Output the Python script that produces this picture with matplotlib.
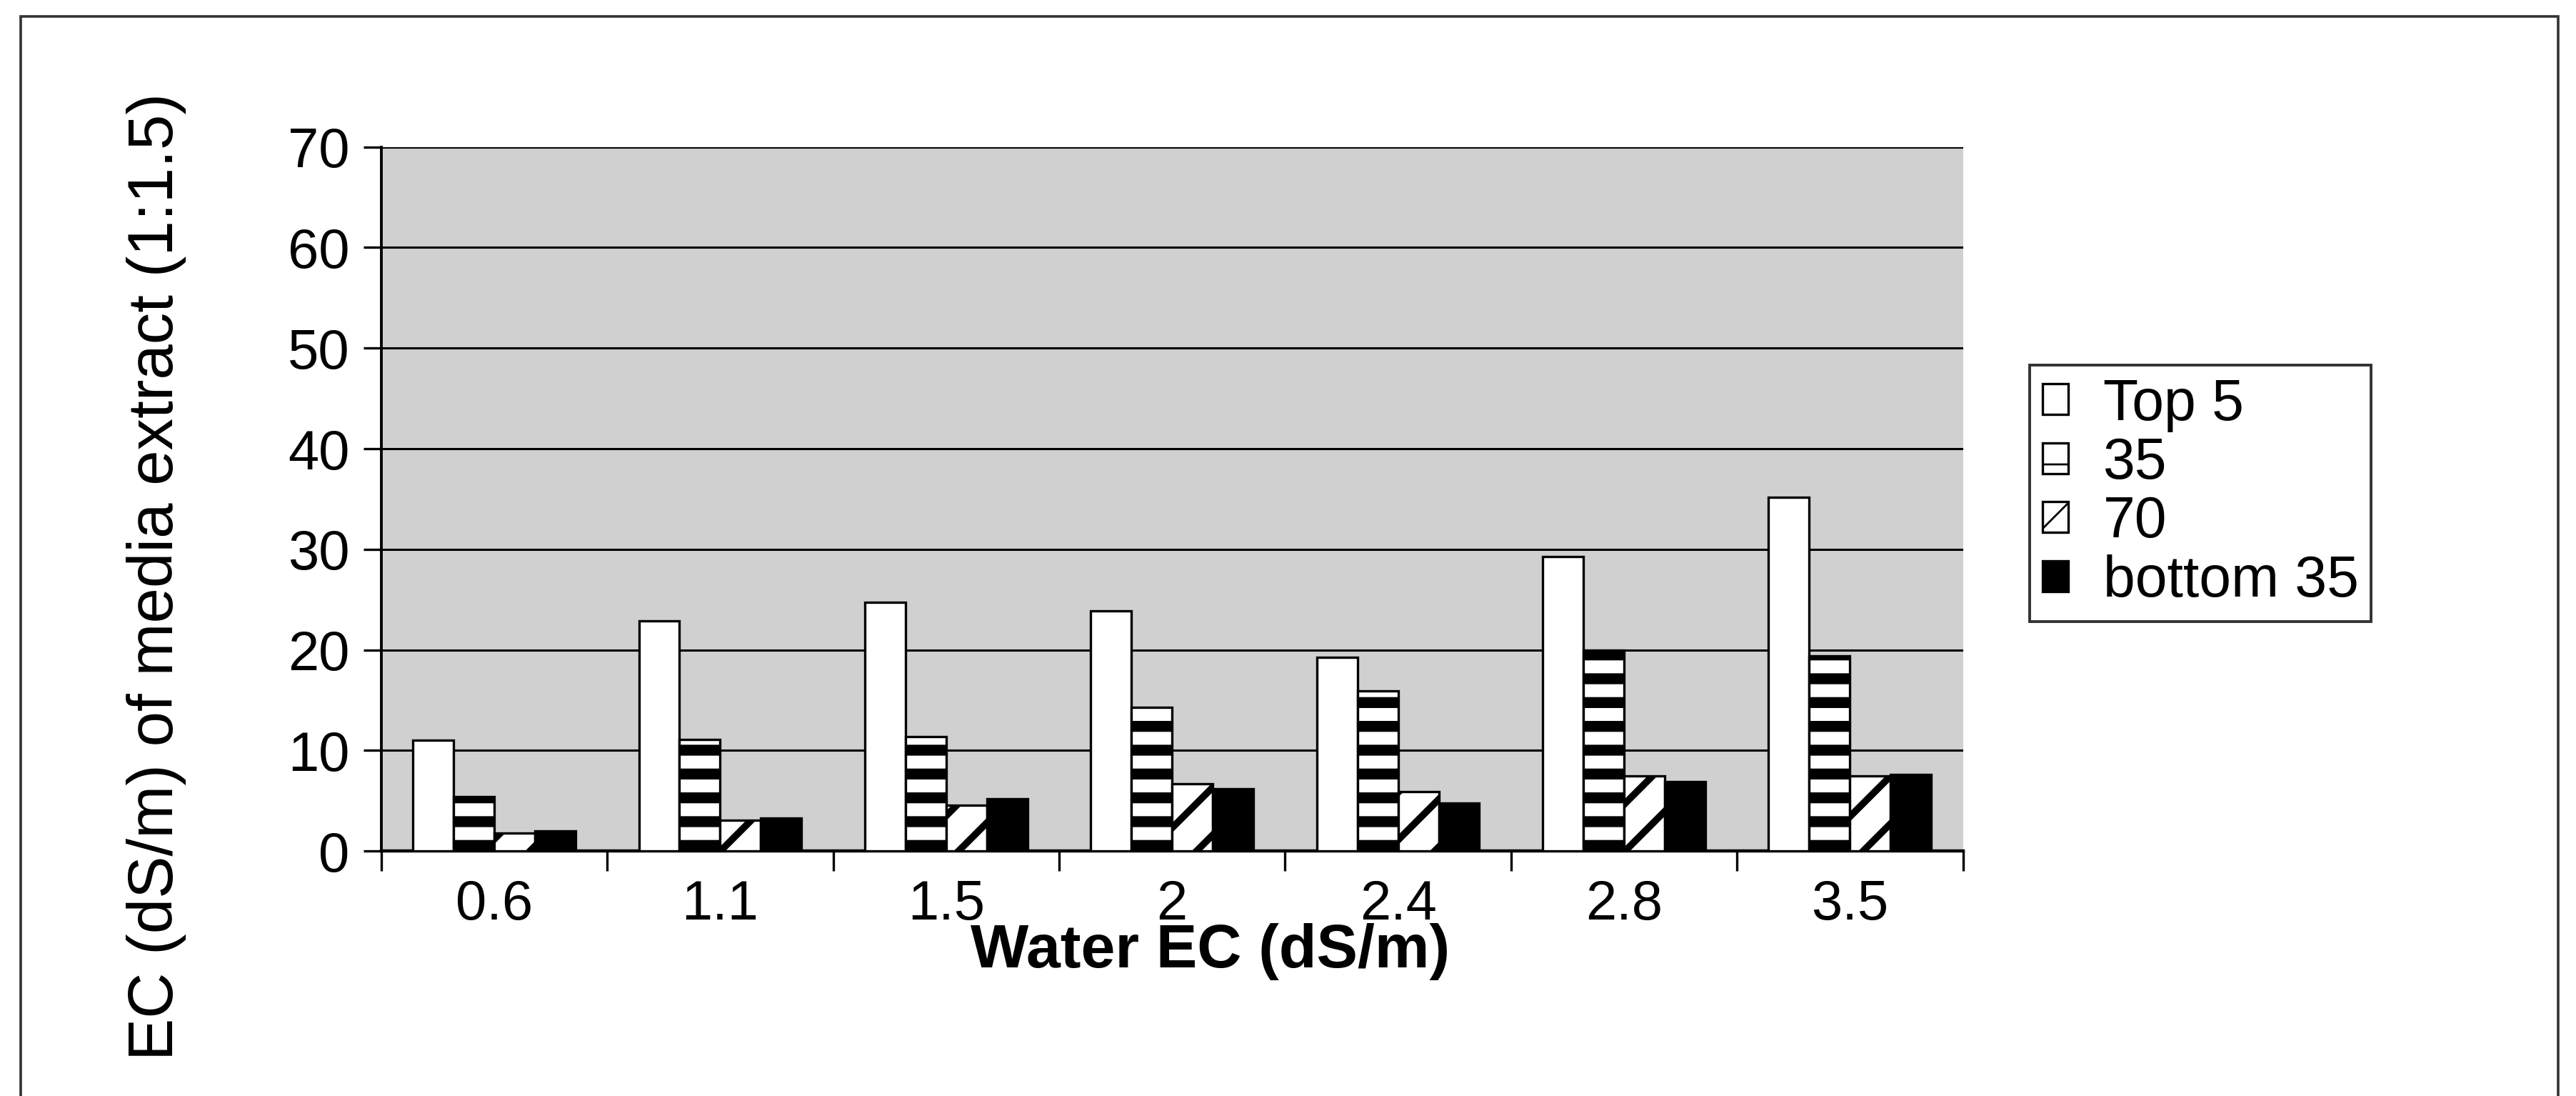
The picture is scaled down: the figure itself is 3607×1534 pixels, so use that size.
import matplotlib
matplotlib.use("Agg")
import matplotlib.pyplot as plt
from matplotlib.patches import Rectangle
import numpy as np

plt.rcParams['font.family'] = ['Liberation Sans', 'DejaVu Sans']

water_ec = ['0.6', '1.1', '1.5', '2', '2.4', '2.8', '3.5']
top5 = [11.0, 22.9, 24.7, 23.9, 19.3, 29.3, 35.2]
d35 = [5.4, 11.1, 11.4, 14.3, 15.9, 20.0, 19.4]
d70 = [1.8, 3.1, 4.6, 6.7, 5.9, 7.5, 7.5]
bottom35 = [2.0, 3.3, 5.2, 6.2, 4.8, 6.9, 7.6]
series_names = ['Top 5', '35', '70', 'bottom 35']

fig = plt.figure(figsize=(18.035, 7.67), dpi=200)
ax = fig.add_axes([0.148, 0.2234, 0.614, 0.6426])
ax.set_facecolor('#d0d0d0')

x = np.arange(len(water_ec))
w = 0.18
styles = [
    dict(color='white', hatch=None, hlw=1.0),
    dict(color='white', hatch='-', hlw=5.5),
    dict(color='white', hatch='/', hlw=3.5),
    dict(color='black', hatch=None, hlw=1.0),
]
handles = []
for i, (vals, st) in enumerate(zip([top5, d35, d70, bottom35], styles)):
    with plt.rc_context({'hatch.linewidth': st['hlw'], 'hatch.color': 'black'}):
        bars = ax.bar(x + (i - 1.5) * w, vals, w, color=st['color'],
                      edgecolor='black', linewidth=1.2, hatch=st['hatch'],
                      label=series_names[i], zorder=3)
        for b in bars:
            if hasattr(b, 'set_hatch_linewidth'):
                b.set_hatch_linewidth(st['hlw'])
    handles.append(bars)

ax.set_ylim(0, 70)
ax.set_xlim(-0.5, len(water_ec) - 0.5)
ax.set_yticks(range(0, 71, 10))
ax.yaxis.grid(True, color='black', linewidth=1.1, zorder=1)
ax.set_axisbelow(True)

# category boundaries get the tick marks, centres get the labels
ax.set_xticks(np.arange(-0.5, len(water_ec), 1.0))
ax.set_xticklabels([])
ax.set_xticks(x, minor=True)
ax.set_xticklabels(water_ec, minor=True)
ax.tick_params(axis='x', which='major', length=10, width=1.2, direction='out')
ax.tick_params(axis='x', which='minor', length=0, pad=14, labelsize=28)
ax.tick_params(axis='y', length=9, width=1.2, direction='out', pad=7,
               labelsize=28)

for side in ['top', 'right']:
    ax.spines[side].set_visible(False)
ax.spines['left'].set_linewidth(1.4)
ax.spines['bottom'].set_linewidth(1.6)

ax.set_xlabel('Water EC (dS/m)', fontsize=31, fontweight='bold',
              labelpad=-4, x=0.524)
ax.set_ylabel('EC (dS/m) of media extract (1:1.5)', fontsize=32)
ax.yaxis.set_label_coords(-0.123, 0.39)

leg = fig.legend(handles=handles, labels=series_names, loc='upper left',
                 bbox_to_anchor=(0.788, 0.667), fontsize=29,
                 frameon=True, fancybox=False, edgecolor='black',
                 handlelength=0.45, handleheight=0.45, handletextpad=0.6,
                 labelspacing=0.08, borderpad=0.22, borderaxespad=0)
leg.get_frame().set_linewidth(1.4)

# outer frame around the whole chart
fig.add_artist(Rectangle((0.008, -0.05), 0.985, 1.035, transform=fig.transFigure,
                         fill=False, edgecolor='#333333', linewidth=1.3))

fig.savefig('out.png', dpi=200)
